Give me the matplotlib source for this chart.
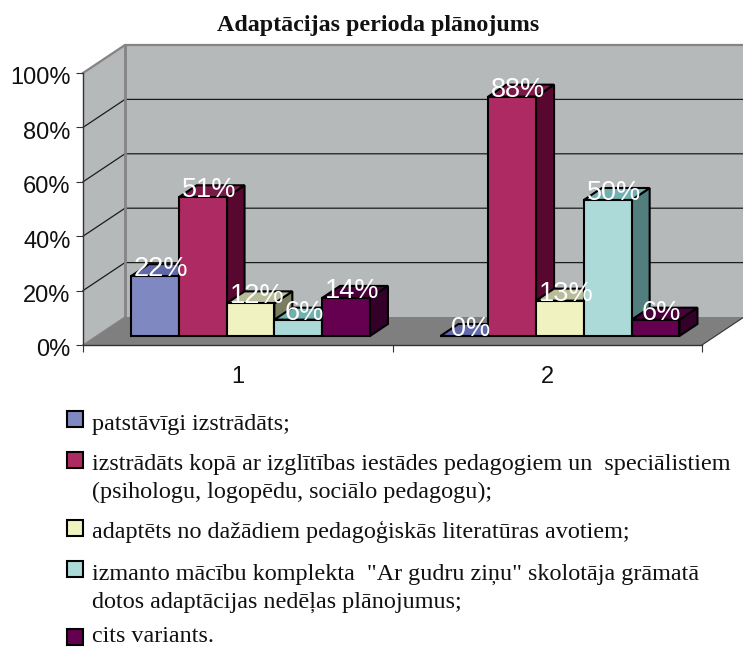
import matplotlib
matplotlib.use("Agg")
import matplotlib.pyplot as plt
from matplotlib.patches import Polygon, Rectangle
from matplotlib.transforms import ScaledTranslation

# ---- data ----
title = "Adaptācijas perioda plānojums"
categories = ["1", "2"]
series_names = [
    "patstāvīgi izstrādāts;",
    "izstrādāts kopā ar izglītības iestādes pedagogiem un  speciālistiem\n(psihologu, logopēdu, sociālo pedagogu);",
    "adaptēts no dažādiem pedagoģiskās literatūras avotiem;",
    "izmanto mācību komplekta  \"Ar gudru ziņu\" skolotāja grāmatā\ndotos adaptācijas nedēļas plānojumus;",
    "cits variants.",
]
values_1 = [22, 51, 12, 6, 14]
values_2 = [0, 88, 13, 50, 6]
yticks = [0, 20, 40, 60, 80, 100]

front_colors = ["#7F88C0", "#AE2A62", "#F0F2C0", "#ABDAD8", "#64004F"]
top_colors = ["#6068A8", "#7A1A48", "#B8BC98", "#70B0B0", "#4A003A"]
side_colors = ["#4A5080", "#58082F", "#7A7E60", "#527E7E", "#320028"]

W, H = 743, 648
fig = plt.figure(figsize=(W / 100, H / 100), dpi=100, facecolor="white")
X0, X1, Y0, Y100 = 83, 702, 345, 73
ax = fig.add_axes([X0 / W, 1 - Y0 / H, (X1 - X0) / W, (Y0 - Y100) / H])
ax.set_xlim(0, 2)
ax.set_ylim(0, 100)
ax.patch.set_visible(False)

px_x = 2 / (X1 - X0)
px_y = 100 / (Y0 - Y100)
DX = 42 * px_x
DY = 28 * px_y


def proj(x, y, d):
    """Data point at depth fraction d (0 = front, 1 = back wall)."""
    return (x + d * DX, y + d * DY)


def poly(pts, **kw):
    ax.add_patch(Polygon(pts, closed=True, clip_on=False, **kw))


WALL = "#B6B9BA"
EDGE = "#848484"
poly([proj(0, 0, 1), proj(2, 0, 1), proj(2, 100, 1), proj(0, 100, 1)], fc=WALL, ec="none", zorder=1)
poly([proj(0, 0, 0), proj(0, 0, 1), proj(0, 100, 1), proj(0, 100, 0)], fc=WALL, ec="none", zorder=1)
poly([proj(0, 0, 0), proj(2, 0, 0), proj(2, 0, 1), proj(0, 0, 1)], fc="#7F7F7F", ec="none", zorder=1.5)

for t in yticks[1:-1]:
    xa, ya = zip(proj(0, t, 0), proj(0, t, 1), proj(2, t, 1))
    ax.plot(xa, ya, color="#1c1c1c", lw=0.9, clip_on=False, zorder=1.2)
xa, ya = zip(proj(0, 100, 0), proj(0, 100, 1), proj(2, 100, 1))
ax.plot(xa, ya, color=EDGE, lw=1.6, clip_on=False, zorder=1.3)
xa, ya = zip(proj(0, 0, 1), proj(0, 100, 1))
ax.plot(xa, ya, color=EDGE, lw=2, clip_on=False, zorder=1.3)
xa, ya = zip(proj(0, 0, 0), proj(0, 0, 1))
ax.plot(xa, ya, color=EDGE, lw=1, clip_on=False, zorder=1.6)
xa, ya = zip(proj(2, 0, 0), proj(2, 0, 1))
ax.plot(xa, ya, color="#333333", lw=0.8, clip_on=False, zorder=1.6)

# bars
n = len(series_names)
bw = 47.8 * px_x
shift = -0.8 * px_x
D_FRONT = 9 / 28
D_BACK = D_FRONT + 12 / 28
groups = [values_1, values_2]
z = 3
for g, vals in enumerate(groups):
    centre = g + 0.5 + shift
    for i, v in enumerate(vals):
        left = centre + (i - n / 2) * bw
        right = left + bw
        ec = dict(ec="black", lw=1.5, joinstyle="miter")
        poly([proj(right, 0, D_FRONT), proj(right, 0, D_BACK),
              proj(right, v, D_BACK), proj(right, v, D_FRONT)],
             fc=side_colors[i], zorder=z, **ec)
        poly([proj(left, v, D_FRONT), proj(right, v, D_FRONT),
              proj(right, v, D_BACK), proj(left, v, D_BACK)],
             fc=top_colors[i], zorder=z, **ec)
        fx, fy = proj(left, 0, D_FRONT)
        ax.bar(fx, v, width=bw, bottom=fy, align="edge", color=front_colors[i],
               edgecolor="black", linewidth=1.5, clip_on=False, zorder=z + 0.1)
        z += 0.2

# data labels
for g, vals in enumerate(groups):
    centre = g + 0.5 + shift
    for i, v in enumerate(vals):
        left = centre + (i - n / 2) * bw
        tx, ty = proj(left + bw / 2, v, D_FRONT)
        ax.annotate(f"{v}%", (tx, ty), xytext=(4.5, 0), textcoords="offset points",
                    ha="center", va="baseline", color="white", fontsize=19.5,
                    family="Liberation Sans", zorder=20, annotation_clip=False)

# axes furniture
for s in ("top", "right"):
    ax.spines[s].set_visible(False)
for s in ("left", "bottom"):
    ax.spines[s].set_color("#333333")
    ax.spines[s].set_linewidth(1.0)
    ax.spines[s].set_zorder(2)
ax.set_yticks(yticks)
ax.set_yticklabels([f"{t}%" for t in yticks], family="Liberation Sans", fontsize=17, color="#111111")
ax.tick_params(axis="y", length=5, width=0.8, pad=4, color="#333333")
shift_down = ScaledTranslation(0, -3 / 100, fig.dpi_scale_trans)
for lab in ax.get_yticklabels():
    lab.set_transform(lab.get_transform() + shift_down)
ax.set_xticks([0, 1, 2])
ax.set_xticklabels([])
ax.tick_params(axis="x", which="major", length=5, width=0.8, color="#333333")
ax.set_xticks([0.5, 1.5], minor=True)
ax.set_xticklabels(categories, minor=True, family="Liberation Sans", fontsize=17, color="#111111")
ax.tick_params(axis="x", which="minor", length=0, pad=15)

fig.text(378 / W, 1 - 26 / H, title, ha="center", va="center", family="Liberation Serif",
         fontweight="bold", fontsize=17.3, color="#111111")

# legend: markers sit beside the first line of each entry
marker_y = [419, 460, 528, 569, 637]
line_y = [[430], [470, 498], [538], [580, 608], [642.5]]
for name, col, my, ys in zip(series_names, front_colors, marker_y, line_y):
    fig.add_artist(Rectangle((67 / W, 1 - (my + 8) / H), 16 / W, 16 / H, transform=fig.transFigure,
                             fc=col, ec="black", lw=1.5))
    for line, y in zip(name.split("\n"), ys):
        fig.text(92 / W, 1 - y / H, line, ha="left", va="baseline", family="Liberation Serif",
                 fontsize=17.4, color="#111111")

fig.savefig("out.png", dpi=100)
